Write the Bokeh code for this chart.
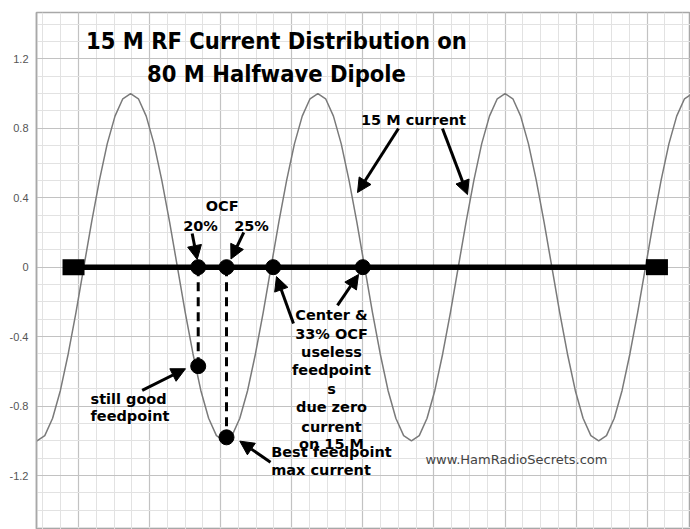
import numpy as np
from bokeh.plotting import figure
from bokeh.models import (Range1d, LinearAxis, Grid, SingleIntervalTicker, FixedTicker,
                          Arrow, NormalHead)
from bokeh.core.properties import value
from bokeh.embed import file_html
from bokeh.resources import INLINE

# ---------------- data (x in major-grid units, y = relative current) ----------------
wave_x_start = -0.6936
wave_x_step = 0.10974
wave_y = [
    -0.97, -1.0, -0.97, -0.87, -0.71, -0.5, -0.26,
    0.0, 0.26, 0.5, 0.71, 0.87, 0.97, 1.0, 0.97, 0.87, 0.71, 0.5, 0.26,
    0.0, -0.26, -0.5, -0.71, -0.87, -0.97, -1.0, -0.97, -0.87, -0.71, -0.5, -0.26,
    0.0, 0.26, 0.5, 0.71, 0.87, 0.97, 1.0, 0.97, 0.87, 0.71, 0.5, 0.26,
    0.0, -0.26, -0.5, -0.71, -0.87, -0.97, -1.0, -0.97, -0.87, -0.71, -0.5, -0.26,
    0.0, 0.26, 0.5, 0.71, 0.87, 0.97, 1.0, 0.97, 0.87, 0.71, 0.5, 0.26,
    0.0, -0.26, -0.5, -0.71, -0.87, -0.97, -1.0, -0.97, -0.87, -0.71, -0.5, -0.26,
    0.0, 0.26, 0.5, 0.71, 0.87, 0.97, 1.0, 0.97,
]
wave_x = [wave_x_start + i * wave_x_step for i in range(len(wave_y))]

antenna_x = [-0.070, 8.137]
antenna_y = [0.0, 0.0]

feed_names = ["20%", "25%", "33%", "Center"]
feed_x = [1.684, 2.082, 2.739, 3.999]
feed_y = [0.0, 0.0, 0.0, 0.0]
feed_current_x = [1.684, 2.082]
feed_current_y = [-0.57, -0.98]

y_ticks = [-1.2, -0.8, -0.4, 0, 0.4, 0.8, 1.2]
y_tick_labels = ["-1.2", "-0.8", "-0.4", "0", "0.4", "0.8", "1.2"]

title_lines = ["15 M RF Current Distribution on", "80 M Halfwave Dipole"]

# annotation texts: (text, x, y, align)
notes = [
    ("15 M current", 4.712, 0.850, "center"),
    ("OCF", 2.021, 0.350, "center"),
    ("20%", 1.716, 0.240, "center"),
    ("25%", 2.434, 0.240, "center"),
    ("Center &", 3.559, -0.278, "center"),
    ("33% OCF", 3.559, -0.384, "center"),
    ("useless", 3.559, -0.490, "center"),
    ("feedpoint", 3.559, -0.595, "center"),
    ("s", 3.559, -0.700, "center"),
    ("due zero", 3.559, -0.806, "center"),
    ("current", 3.559, -0.918, "center"),
    ("on 15 M", 3.559, -1.021, "center"),
    ("still good", 0.169, -0.762, "left"),
    ("feedpoint", 0.169, -0.860, "left"),
    ("Best feedpoint", 2.711, -1.062, "left"),
    ("max current", 2.711, -1.166, "left"),
]

# arrows: (x_start, y_start, x_end, y_end)
arrows = [
    (4.501, 0.799, 3.925, 0.430),
    (5.120, 0.799, 5.472, 0.418),
    (1.599, 0.194, 1.670, 0.044),
    (2.325, 0.200, 2.145, 0.047),
    (3.024, -0.324, 2.785, -0.054),
    (3.643, -0.220, 3.939, -0.042),
    (0.896, -0.710, 1.505, -0.585),
    (2.701, -1.123, 2.269, -1.002),
]

# ---------------- figure ----------------
p = figure(width=690, height=529, output_backend="svg", toolbar_location=None,
           x_range=Range1d(-0.5908, 8.609), y_range=Range1d(-1.511, 1.467),
           x_axis_location=None, y_axis_location=None,
           min_border_left=36, min_border_top=12, min_border_right=0, min_border_bottom=0)
p.center = []
p.outline_line_color = "#a8a8a8"
p.outline_line_width = 1.5
p.background_fill_color = "white"

xg = Grid(dimension=0, ticker=SingleIntervalTicker(interval=1, num_minor_ticks=4),
          grid_line_color="#c2c2c2", grid_line_width=1.2,
          minor_grid_line_color="#e2e2e2", minor_grid_line_width=1)
yg = Grid(dimension=1, ticker=SingleIntervalTicker(interval=0.4, num_minor_ticks=4),
          grid_line_color="#c2c2c2", grid_line_width=1.2,
          minor_grid_line_color="#e2e2e2", minor_grid_line_width=1)
p.add_layout(xg, "center")
p.add_layout(yg, "center")

yaxis = LinearAxis(ticker=FixedTicker(ticks=y_ticks),
                   major_label_overrides=dict(zip(y_ticks, y_tick_labels)),
                   major_tick_line_color=None, minor_tick_line_color=None,
                   axis_line_color="#a8a8a8", axis_line_width=1.5,
                   major_label_text_color="#555555", major_label_text_font_size="11px",
                   major_label_text_font="Liberation Sans", major_label_standoff=2)
p.add_layout(yaxis, "left")

# wave
p.line(wave_x, wave_y, line_color="#7a7a7a", line_width=1.5)
# antenna
p.line(antenna_x, antenna_y, line_color="black", line_width=5.5)
p.rect(antenna_x, antenna_y, width=22, height=16, width_units="screen", height_units="screen",
       fill_color="black", line_color=None)
# dashed drop lines
p.segment(x0=feed_current_x, y0=feed_y[:2], x1=feed_current_x, y1=feed_current_y,
          line_color="black", line_width=3, line_dash="9 6")
# dots
p.scatter(feed_x, feed_y, size=15, color="black")
p.scatter(feed_current_x, feed_current_y, size=15, color="black")

# title
p.text(x=[2.785, 2.785], y=[1.300, 1.110], text=title_lines,
       text_font=value("DejaVu Sans Condensed"), text_font_style="bold", text_font_size="23.5px",
       text_align="center", text_baseline="middle", text_color="black")

for align in ("center", "left"):
    sel = [n for n in notes if n[3] == align]
    p.text(x=[n[1] for n in sel], y=[n[2] for n in sel], text=[n[0] for n in sel],
           text_font=value("DejaVu Sans"), text_font_style="bold", text_font_size="14.5px",
           text_align=align, text_baseline="middle", text_color="black")

p.text(x=[4.881], y=[-1.108], text=["www.HamRadioSecrets.com"],
       text_font=value("DejaVu Sans"), text_font_size="13px", text_color="#444444",
       text_align="left", text_baseline="middle")

for xs, ys, xe, ye in arrows:
    p.add_layout(Arrow(end=NormalHead(size=14, fill_color="black", line_color="black"),
                       x_start=xs, y_start=ys, x_end=xe, y_end=ye,
                       line_color="black", line_width=3))

open("out.html", "w").write(file_html(p, INLINE))
